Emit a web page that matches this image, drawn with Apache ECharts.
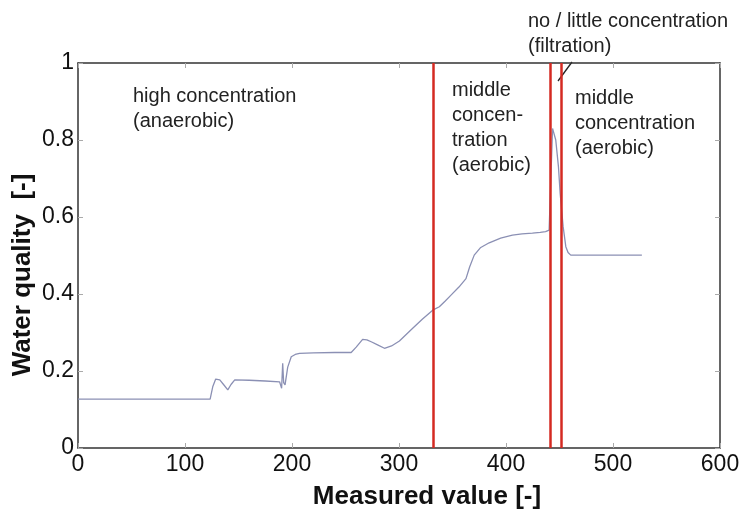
<!DOCTYPE html>
<html>
<head>
<meta charset="utf-8">
<script src="https://cdn.jsdelivr.net/npm/echarts@6/dist/echarts.min.js"></script>
<style>
  html, body { margin: 0; padding: 0; background: #fff; }
  #container { width: 745px; height: 513px; }
</style>
</head>
<body>
<div id="container"></div>
<script>
var xTicks = [0, 100, 200, 300, 400, 500, 600];
var yTicks = [0, 0.2, 0.4, 0.6, 0.8, 1];

var measured = [0, 123.5, 126, 128.7, 132.5, 136, 140, 143, 146.5, 160,
  175, 188.4, 190.3, 191.3, 192.2, 193.5, 196, 199.3, 203, 207,
  220, 240, 255.3, 260, 266, 270, 274, 280, 286.4, 293,
  300.4, 312.8, 322, 331.5, 337.7, 343, 348.6, 356, 362.6, 366,
  370.3, 376, 384.3, 395, 406, 415, 424.7, 432, 437, 440.3,
  441.3, 443.5, 444.3, 446.5, 449, 450.6, 453.4, 455.9, 458, 460.5,
  480, 500, 527];
var quality = [0.127, 0.127, 0.16, 0.179, 0.177, 0.165, 0.151, 0.165, 0.177, 0.176,
  0.174, 0.172, 0.155, 0.22, 0.17, 0.164, 0.21, 0.237, 0.243, 0.246,
  0.247, 0.248, 0.248, 0.262, 0.282, 0.281, 0.276, 0.268, 0.259, 0.265,
  0.278, 0.311, 0.335, 0.358, 0.367, 0.381, 0.397, 0.418, 0.44, 0.47,
  0.501, 0.52, 0.533, 0.545, 0.553, 0.556, 0.558, 0.56, 0.562, 0.566,
  0.57, 0.83, 0.83, 0.8, 0.731, 0.662, 0.575, 0.523, 0.508, 0.501,
  0.501, 0.501, 0.501];

// zone borders (red lines)
var borders = [332, 441, 452];

var dom = document.getElementById("container");
var myChart = echarts.init(dom);

var pts = [];
for (var i = 0; i < measured.length; i++) {
    pts.push([measured[i], quality[i]]);
}

var tickFont = {
    color: '#111',
    fontFamily: '"Liberation Sans", Arial, sans-serif',
    fontSize: 23
};
var noteStyle = {
    fill: '#222',
    fontFamily: '"Liberation Sans", Arial, sans-serif',
    fontSize: 20,
    lineHeight: 25
};

var option = {
    animation: false,
    backgroundColor: '#fff',
    grid: { left: 78, right: 25, top: 63, bottom: 65 },
    xAxis: [{
        type: 'value',
        min: xTicks[0],
        max: xTicks[xTicks.length - 1],
        interval: 100,
        axisLine: { onZero: false, lineStyle: { color: '#333', width: 1.5 } },
        axisTick: { inside: true, length: 5, lineStyle: { color: '#aaa' } },
        axisLabel: Object.assign({ margin: 5 }, tickFont),
        splitLine: { show: false }
    }, {
        type: 'value',
        position: 'top',
        min: xTicks[0],
        max: xTicks[xTicks.length - 1],
        interval: 100,
        axisLine: { onZero: false, lineStyle: { color: '#333', width: 1.5 } },
        axisTick: { inside: true, length: 5, lineStyle: { color: '#aaa' } },
        axisLabel: { show: false },
        splitLine: { show: false }
    }],
    yAxis: [{
        type: 'value',
        min: yTicks[0],
        max: yTicks[yTicks.length - 1],
        interval: 0.2,
        axisLine: { show: true, onZero: false, lineStyle: { color: '#333', width: 1.5 } },
        axisTick: { show: true, inside: true, length: 5, lineStyle: { color: '#aaa' } },
        axisLabel: Object.assign({ margin: 4 }, tickFont),
        splitLine: { show: false }
    }, {
        type: 'value',
        position: 'right',
        min: yTicks[0],
        max: yTicks[yTicks.length - 1],
        interval: 0.2,
        axisLine: { show: true, onZero: false, lineStyle: { color: '#333', width: 1.5 } },
        axisTick: { show: true, inside: true, length: 5, lineStyle: { color: '#aaa' } },
        axisLabel: { show: false },
        splitLine: { show: false }
    }],
    series: [{
        type: 'line',
        data: pts,
        showSymbol: false,
        smooth: false,
        lineStyle: { color: '#8b90b4', width: 1.3 },
        markLine: {
            silent: true,
            symbol: ['none', 'none'],
            label: { show: false },
            lineStyle: { color: '#d42a22', width: 2.5, type: 'solid' },
            data: borders.map(function (b) { return { xAxis: b }; })
        }
    }],
    graphic: [
        { type: 'text', left: 133, top: 84, style: Object.assign({ text: 'high concentration\n(anaerobic)' }, noteStyle) },
        { type: 'text', left: 452, top: 78, style: Object.assign({ text: 'middle\nconcen-\ntration\n(aerobic)' }, noteStyle) },
        { type: 'text', left: 575, top: 86, style: Object.assign({ text: 'middle\nconcentration\n(aerobic)' }, noteStyle) },
        { type: 'text', left: 528, top: 9, style: Object.assign({ text: 'no / little concentration\n(filtration)' }, noteStyle) },
        { type: 'line', shape: { x1: 558, y1: 81, x2: 572, y2: 62 }, style: { stroke: '#222', lineWidth: 1.3 } },
        {
            type: 'text', x: 427, y: 497,
            style: { text: 'Measured value [-]', fill: '#111', fontFamily: '"Liberation Sans", Arial, sans-serif', fontSize: 26, fontWeight: 'bold', align: 'center', verticalAlign: 'middle' }
        },
        {
            type: 'text', x: 23, y: 275, rotation: Math.PI / 2,
            style: { text: 'Water quality  [-]', fill: '#111', fontFamily: '"Liberation Sans", Arial, sans-serif', fontSize: 26, fontWeight: 'bold', align: 'center', verticalAlign: 'middle' }
        }
    ]
};

if (option && typeof option === "object") {
    myChart.setOption(option, true);
}
</script>
</body>
</html>
